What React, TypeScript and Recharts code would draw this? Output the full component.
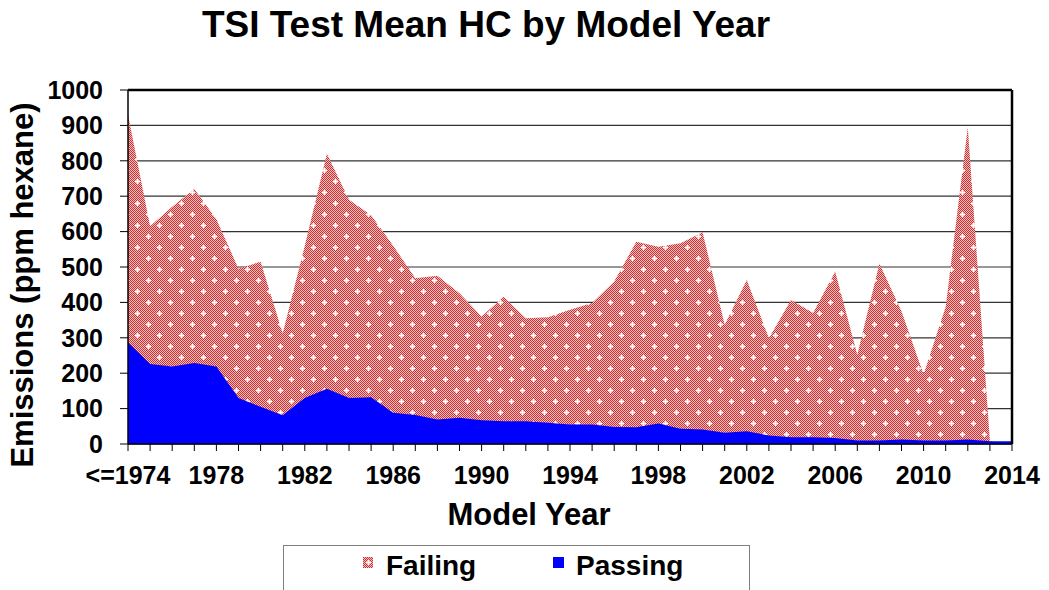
/* TSI test mean HC by model year: failing vs passing areas. */

import { Area, AreaChart, CartesianGrid, ReferenceLine, XAxis, YAxis } from "recharts";

const years = [
  "<=1974", "1975", "1976", "1977", "1978", "1979", "1980", "1981", "1982", "1983",
  "1984", "1985", "1986", "1987", "1988", "1989", "1990", "1991", "1992", "1993",
  "1994", "1995", "1996", "1997", "1998", "1999", "2000", "2001", "2002", "2003",
  "2004", "2005", "2006", "2007", "2008", "2009", "2010", "2011", "2012", "2013",
  "2014",
];

const failing = [
  930, 615, 670, 720, 635, 495, 515, 313, 560, 820,
  690, 646, 560, 468, 475, 426, 360, 416, 355, 358,
  379, 398, 459, 571, 557, 567, 598, 337, 463, 299,
  407, 370, 487, 252, 510, 375, 196, 388, 895, 8,
  0,
];

const passing = [
  287, 226, 219, 229, 219, 130, 105, 81, 130, 156,
  130, 132, 88, 82, 69, 74, 67, 64, 64, 60,
  55, 55, 48, 47, 58, 43, 41, 32, 36, 24,
  19, 19, 17, 10, 10, 13, 10, 10, 13, 8,
  8,
];

const yTicks = [0, 100, 200, 300, 400, 500, 600, 700, 800, 900, 1000];

const data = years.map((year, i) => ({ year, failing: failing[i], passing: passing[i] }));

const FONT = "'Liberation Sans', Arial, Helvetica, sans-serif";

function Cross({ x, y }: { x: number; y: number }) {
  return (
    <g>
      <rect x={x - 1} y={y - 1} width={3} height={3} fill="#fff" opacity={0.7} />
      <rect x={x - 2} y={y} width={5} height={1} fill="#fff" />
      <rect x={x} y={y - 2} width={1} height={5} fill="#fff" />
    </g>
  );
}

function PatternDefs({ id }: { id: string }) {
  return (
    <defs>
      <pattern id={`${id}-check`} width={2} height={2} patternUnits="userSpaceOnUse">
        <rect width={2} height={2} fill="#f1c0c0" />
        <rect width={1} height={1} fill="#cc3030" />
        <rect x={1} y={1} width={1} height={1} fill="#cc3030" />
      </pattern>
      <pattern id={id} width={22} height={22} patternUnits="userSpaceOnUse">
        <rect width={22} height={22} fill={`url(#${id}-check)`} />
        <Cross x={5} y={5} />
        <Cross x={16} y={16} />
      </pattern>
    </defs>
  );
}

const formatYear = (v: string, i: number) => (i % 4 === 0 ? v : "");

export default function App() {
  return (
    <div
      style={{
        position: "absolute",
        left: 0,
        top: 0,
        width: 1049,
        height: 590,
        overflow: "hidden",
        background: "#fff",
        fontFamily: FONT,
        color: "#000",
      }}
    >
      <div
        style={{
          position: "absolute",
          left: 0,
          top: 4,
          width: 972,
          textAlign: "center",
          fontSize: 37,
          fontWeight: 700,
          whiteSpace: "nowrap",
        }}
      >
        TSI Test Mean HC by Model Year
      </div>

      <AreaChart width={1049} height={590} data={data} margin={{ top: 90, right: 37, left: 28, bottom: 86 }}>
        <PatternDefs id="failHatch" />
        <CartesianGrid vertical={false} stroke="#333" strokeWidth={1.2} />
        <XAxis
          dataKey="year"
          interval={0}
          tickFormatter={formatYear}
          height={60}
          tickSize={7}
          tickMargin={15}
          stroke="#000"
          axisLine={{ stroke: "#000", strokeWidth: 1.5 }}
          tickLine={{ stroke: "#000" }}
          tick={{ fill: "#000", fontSize: 25, fontWeight: 700, fontFamily: FONT }}
        />
        <YAxis
          domain={[0, 1000]}
          ticks={yTicks}
          width={100}
          tickSize={8}
          tickMargin={17}
          stroke="#000"
          axisLine={{ stroke: "#000", strokeWidth: 1.5 }}
          tickLine={{ stroke: "#000" }}
          tick={{ fill: "#000", fontSize: 25, fontWeight: 700, fontFamily: FONT }}
        />
        <Area
          type="linear"
          dataKey="failing"
          stroke="none"
          fill="url(#failHatch)"
          fillOpacity={1}
          isAnimationActive={false}
        />
        <Area
          type="linear"
          dataKey="passing"
          stroke="none"
          fill="#0000ff"
          fillOpacity={1}
          isAnimationActive={false}
        />
        <ReferenceLine y={1000} stroke="#000" strokeWidth={2.5} />
        <ReferenceLine x="2014" stroke="#000" strokeWidth={2.5} />
      </AreaChart>

      <div
        style={{
          position: "absolute",
          left: 23,
          top: 285,
          transform: "translate(-50%, -50%) rotate(-90deg)",
          transformOrigin: "center",
          fontSize: 31,
          fontWeight: 700,
          whiteSpace: "nowrap",
        }}
      >
        Emissions (ppm hexane)
      </div>

      <div
        style={{
          position: "absolute",
          left: 329,
          top: 497,
          width: 400,
          textAlign: "center",
          fontSize: 31,
          fontWeight: 700,
          whiteSpace: "nowrap",
        }}
      >
        Model Year
      </div>

      <div
        style={{
          position: "absolute",
          left: 283,
          top: 545,
          width: 467,
          height: 60,
          border: "1px solid #7f7f7f",
          boxSizing: "border-box",
        }}
      >
        <svg width={10} height={11} style={{ position: "absolute", left: 79, top: 11 }}>
          <PatternDefs id="legendHatch" />
          <rect width={10} height={11} fill="url(#legendHatch)" />
        </svg>
        <div style={{ position: "absolute", left: 102, top: 4, fontSize: 28, fontWeight: 700, whiteSpace: "nowrap" }}>
          Failing
        </div>
        <div style={{ position: "absolute", left: 269, top: 11, width: 11, height: 11, background: "#0000ff" }} />
        <div style={{ position: "absolute", left: 292, top: 4, fontSize: 28, fontWeight: 700, whiteSpace: "nowrap" }}>
          Passing
        </div>
      </div>
    </div>
  );
}
